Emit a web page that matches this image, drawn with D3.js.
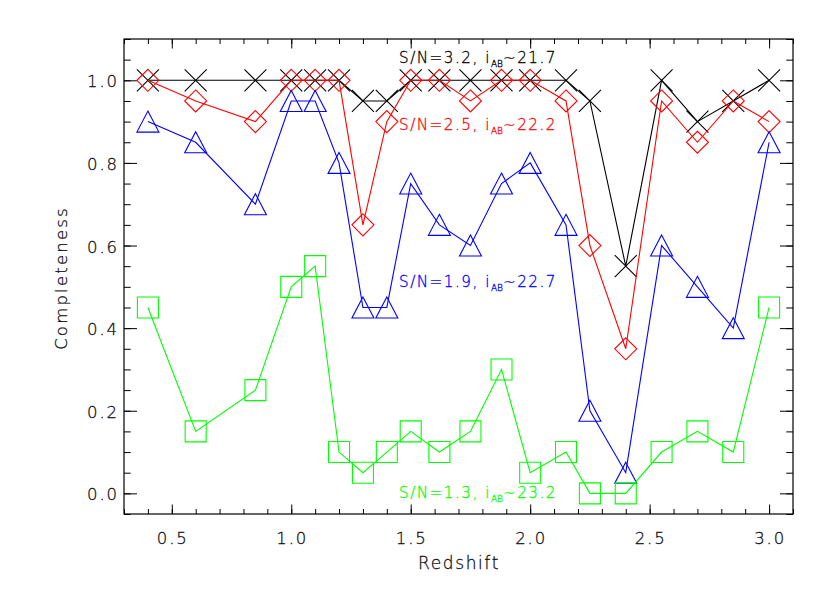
<!DOCTYPE html>
<html>
<head>
<meta charset="utf-8">
<script src="https://cdn.jsdelivr.net/npm/d3@7"></script>
<style>
  html, body { margin: 0; padding: 0; background: #fff; }
  svg { display: block; }
  text { font-family: "DejaVu Sans", sans-serif; font-weight: 200; }
</style>
</head>
<body>
<svg id="chart" width="830" height="593"></svg>
<script>
// ---- data ----
const redshift = [0.4, 0.6, 0.85, 1.0, 1.1, 1.2, 1.3, 1.4, 1.5, 1.62, 1.75, 1.88, 2.0, 2.15, 2.25, 2.4, 2.55, 2.7, 2.85, 3.0];
const compSN32 = [1, 1, 1, 1, 1, 1, 0.95, 0.95, 1, 1, 1, 1, 1, 1, 0.95, 0.55, 1, 0.9, 0.95, 1];
const compSN25 = [1, 0.95, 0.9, 1, 1, 1, 0.65, 0.9, 1, 1, 0.95, 1, 1, 0.95, 0.6, 0.35, 0.95, 0.85, 0.95, 0.9];
const compSN19 = [0.9, 0.85, 0.7, 0.95, 0.95, 0.8, 0.45, 0.45, 0.75, 0.65, 0.6, 0.75, 0.8, 0.65, 0.2, 0.05, 0.6, 0.5, 0.4, 0.85];
const compSN13 = [0.45, 0.15, 0.25, 0.5, 0.55, 0.1, 0.05, 0.1, 0.15, 0.1, 0.15, 0.3, 0.05, 0.1, 0, 0, 0.1, 0.15, 0.1, 0.45];
const seriesNames = ["S/N=3.2", "S/N=2.5", "S/N=1.9", "S/N=1.3"];
const seriesMags = ["~21.7", "~22.2", "~22.7", "~23.2"];
const seriesLabelY = [1.0415, 0.8808, 0.4995, -0.0113];
const xTicks = [0.5, 1.0, 1.5, 2.0, 2.5, 3.0];
const yTicks = [0.0, 0.2, 0.4, 0.6, 0.8, 1.0];
const xLabel = "Redshift";
const yLabel = "Completeness";

// ---- layout ----
const svg = d3.select("#chart");
const L = 124, R = 793, T = 39, B = 514;
const x = d3.scaleLinear().domain([0.3, 3.1]).range([L, R]);
const y = d3.scaleLinear().domain([-0.05, 1.1]).range([B, T]);

const colors = ["#000000", "#ff0000", "#0000ff", "#00ff00"];
const markers = ["x", "diamond", "triangle", "square"];
const data = [compSN32, compSN25, compSN19, compSN13];
const textCol = "#111";

// ---- axes ----
const xMinor = d3.range(0.3, 3.1001, 0.1).map(v => +v.toFixed(2));
const yMinor = d3.range(-0.05, 1.1001, 0.05).map(v => +v.toFixed(2));
const axStyle = g => { g.select(".domain").remove(); g.selectAll("line").attr("stroke", "#000").attr("stroke-width", 1); };

svg.append("g").attr("transform", `translate(0,${B})`)
  .call(d3.axisBottom(x).tickValues(xMinor).tickSize(-5).tickFormat("")).call(axStyle);
svg.append("g").attr("transform", `translate(0,${T})`)
  .call(d3.axisTop(x).tickValues(xMinor).tickSize(-5).tickFormat("")).call(axStyle);
svg.append("g").attr("transform", `translate(0,${B})`)
  .call(d3.axisBottom(x).tickValues(xTicks).tickSize(-9.5).tickFormat("")).call(axStyle);
svg.append("g").attr("transform", `translate(0,${T})`)
  .call(d3.axisTop(x).tickValues(xTicks).tickSize(-9.5).tickFormat("")).call(axStyle);

svg.append("g").attr("transform", `translate(${L},0)`)
  .call(d3.axisLeft(y).tickValues(yMinor).tickSize(-6.7).tickFormat("")).call(axStyle);
svg.append("g").attr("transform", `translate(${R},0)`)
  .call(d3.axisRight(y).tickValues(yMinor).tickSize(-6.7).tickFormat("")).call(axStyle);
svg.append("g").attr("transform", `translate(${L},0)`)
  .call(d3.axisLeft(y).tickValues(yTicks).tickSize(-13).tickFormat("")).call(axStyle);
svg.append("g").attr("transform", `translate(${R},0)`)
  .call(d3.axisRight(y).tickValues(yTicks).tickSize(-13).tickFormat("")).call(axStyle);

// tick labels
const thin = sel => sel.attr("stroke-width", 0.3).attr("stroke", function () { return d3.select(this).attr("fill"); });
svg.append("g").selectAll("text").data(xTicks).join("text")
  .attr("x", d => x(d) + 1).attr("y", 543.5)
  .attr("text-anchor", "middle").attr("font-size", 16.5).attr("letter-spacing", 1.9)
  .attr("fill", textCol).call(thin).text(d => d.toFixed(1));
svg.append("g").selectAll("text").data(yTicks).join("text")
  .attr("x", 119).attr("y", d => y(d) + 7)
  .attr("text-anchor", "end").attr("font-size", 16.5).attr("letter-spacing", 1.9)
  .attr("fill", textCol).call(thin).text(d => d.toFixed(1));

// frame
svg.append("rect").attr("x", L).attr("y", T).attr("width", R - L).attr("height", B - T)
  .attr("fill", "none").attr("stroke", "#000").attr("stroke-width", 1.2);

// axis titles
svg.append("text").attr("x", 459).attr("y", 568.5).attr("text-anchor", "middle")
  .attr("font-size", 17).attr("letter-spacing", 1.6).attr("fill", textCol).call(thin).text(xLabel);
svg.append("text").attr("transform", "translate(67,278) rotate(-90)").attr("text-anchor", "middle")
  .attr("font-size", 16.5).attr("letter-spacing", 2.2).attr("fill", textCol).call(thin).text(yLabel);

// ---- series ----
const line = d3.line().x(d => x(d[0])).y(d => y(d[1]));
const symbolPath = (type) => {
  const s = 11;
  if (type === "x") return `M${-s},${-s}L${s},${s}M${-s},${s}L${s},${-s}`;
  if (type === "diamond") return `M0,${-s}L${s},0L0,${s}L${-s},0Z`;
  if (type === "triangle") return `M0,${-10.5}L${s},10.5L${-s},10.5Z`;
  return `M${-10.5},${-10.5}H10.5V10.5H${-10.5}Z`;
};

data.forEach((vals, i) => {
  const pts = redshift.map((z, k) => [z, vals[k]]);
  const g = svg.append("g");
  g.append("path").attr("d", line(pts)).attr("fill", "none")
    .attr("stroke", colors[i]).attr("stroke-width", 1.1);
  g.selectAll("path.m").data(pts).join("path").attr("class", "m")
    .attr("transform", d => `translate(${x(d[0])},${y(d[1])})`)
    .attr("d", symbolPath(markers[i]))
    .attr("fill", "none").attr("stroke", colors[i]).attr("stroke-width", 1.1);

  const t = svg.append("text").attr("x", 399).attr("y", y(seriesLabelY[i]))
    .attr("font-size", 15.2).attr("letter-spacing", 1.5).attr("fill", colors[i])
    .attr("stroke", colors[i]).attr("stroke-width", 0.3);
  t.append("tspan").text(seriesNames[i] + ", i");
  t.append("tspan").attr("font-size", 9).attr("dy", 4).attr("letter-spacing", 0).text("AB");
  t.append("tspan").attr("dy", -4).text(seriesMags[i]);
});
</script>
</body>
</html>
